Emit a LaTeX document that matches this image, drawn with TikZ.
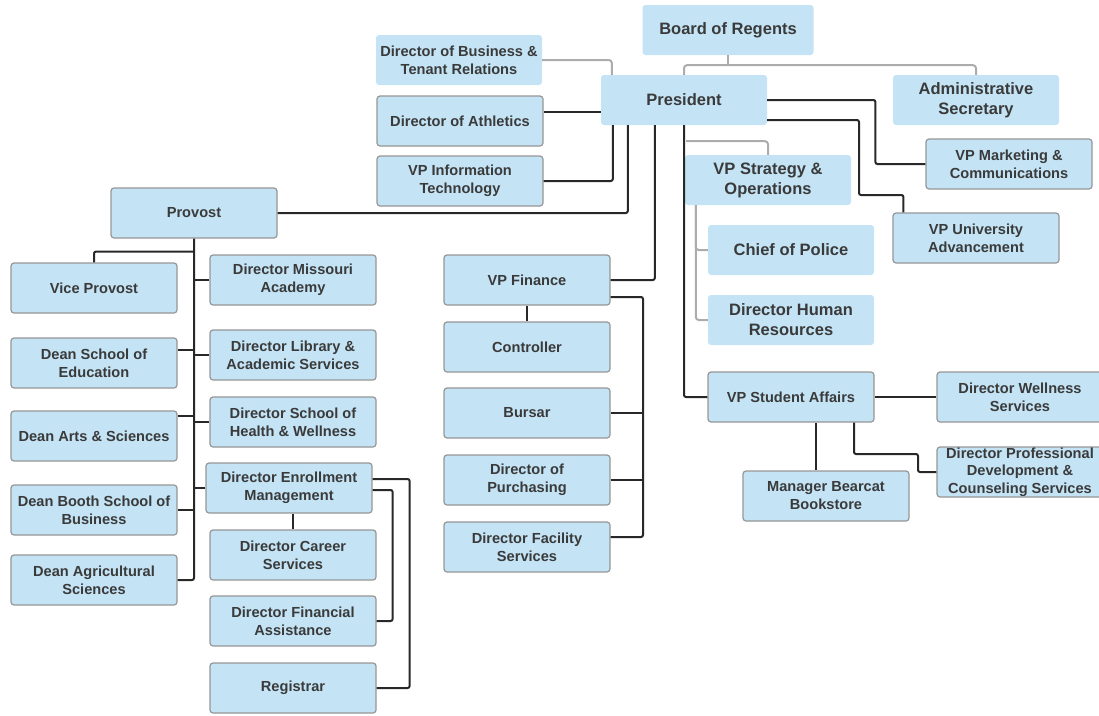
\documentclass[tikz,border=0pt]{standalone}
\usepackage{fontspec}
\setmainfont{Liberation Sans}
\usetikzlibrary{calc}
\definecolor{boxfill}{RGB}{196,228,246}
\definecolor{boxline}{RGB}{150,150,150}
\definecolor{txt}{RGB}{58,58,58}
\definecolor{dk}{RGB}{40,40,40}
\definecolor{lg}{RGB}{172,172,172}
\tikzset{
  box/.style={rectangle, rounded corners=3pt, fill=boxfill, minimum width=166pt, minimum height=50pt,
    inner sep=0pt, align=center, text=txt, font=\fontsize{14.6}{18}\selectfont\bfseries},
  bbox/.style={box, draw=boxline, line width=1.2pt},
  big/.style={font=\fontsize{16.5}{20}\selectfont\bfseries},
  dline/.style={draw=dk, line width=2pt, rounded corners=2pt},
  lline/.style={draw=lg, line width=2pt, rounded corners=3pt}
}
\begin{document}
\begin{tikzpicture}[x=1pt,y=-1pt]
\useasboundingbox (0,0) rectangle (1099,715);
% nodes
\node[box,big,minimum width=171pt] (bor) at (728,30) {Board of Regents};
\node[box] (dbus) at (459,60) {Director of Business \&\\Tenant Relations};
\node[box,big] (pres) at (684,100) {President};
\node[box,big] (adm) at (976,100) {Administrative\\Secretary};
\node[bbox] (ath) at (460,121) {Director of Athletics};
\node[bbox] (it) at (460,181) {VP Information\\Technology};
\node[bbox] (vpm) at (1009,164) {VP Marketing \&\\Communications};
\node[box,big] (vps) at (768,180) {VP Strategy \&\\Operations};
\node[bbox] (prov) at (194,213) {Provost};
\node[bbox] (vpu) at (976,238) {VP University\\Advancement};
\node[box,big] (cop) at (791,250) {Chief of Police};
\node[box,big] (hr) at (791,320) {Director Human\\Resources};
\node[bbox] (vpv) at (94,288) {Vice Provost};
\node[bbox] (dma) at (293,280) {Director Missouri\\Academy};
\node[bbox] (vpf) at (527,280) {VP Finance};
\node[bbox] (ded) at (94,363) {Dean School of\\Education};
\node[bbox] (dla) at (293,355) {Director Library \&\\Academic Services};
\node[bbox] (ctl) at (527,347) {Controller};
\node[bbox] (dsh) at (293,422) {Director School of\\Health \& Wellness};
\node[bbox] (das) at (94,436) {Dean Arts \& Sciences};
\node[bbox] (bur) at (527,413) {Bursar};
\node[bbox] (vpsa) at (791,397) {VP Student Affairs};
\node[bbox] (dws) at (1020,397) {Director Wellness\\Services};
\node[bbox,font=\fontsize{14.6}{17.5}\selectfont\bfseries] (dpd) at (1020,472) {Director Professional\\Development \&\\Counseling Services};
\node[bbox] (dem) at (289,488) {Director Enrollment\\Management};
\node[bbox] (dpu) at (527,480) {Director of\\Purchasing};
\node[bbox] (mbb) at (826,496) {Manager Bearcat\\Bookstore};
\node[bbox] (dbb) at (94,510) {Dean Booth School of\\Business};
\node[bbox] (dcs) at (293,555) {Director Career\\Services};
\node[bbox] (dfs) at (527,547) {Director Facility\\Services};
\node[bbox] (dag) at (94,580) {Dean Agricultural\\Sciences};
\node[bbox] (dfa) at (293,621) {Director Financial\\Assistance};
\node[bbox] (reg) at (293,688) {Registrar};
% helper coordinates
\coordinate (bj) at ($(bor.south)+(0,10)$);
\coordinate (sj) at ($(pres.south)+(2,16)$);
\coordinate (ua) at (859,195);
\coordinate (pa) at (918,454);
\coordinate (fx) at (643,297);
\coordinate (athp) at ($(ath.east)+(0,-9)$);
\coordinate (dedp) at ($(ded.east)+(0,-13)$);
\coordinate (dasp) at ($(das.east)+(0,-20)$);
\coordinate (mbbp) at ($(mbb.north)+(-10,0)$);
\coordinate (dfsp) at ($(dfs.east)+(0,-10)$);
% board connectors
\draw[lline] (pres.north) |- (bj) -| (adm.north);
\draw[lline] (bor.south) -- (bj);
\draw[lline] (dbus.east) -| ($(pres.north west)+(11,0)$);
% president connectors
\draw[dline] (athp) -- (athp -| pres.west);
\draw[dline] (it.east) -| ($(pres.south west)+(12,0)$);
\draw[dline] (prov.east) -| ($(pres.south west)+(27,0)$);
\draw[dline] ($(pres.south west)+(54,0)$) |- (vpf.east);
\draw[dline] (pres.south) |- (vpsa.west);
\draw[lline] (sj) -| (vps.north);
\draw[lline] ($(vps.south west)+(11,0)$) |- (hr.west);
\draw[lline] ($(vps.south west)+(11,0)$) |- (cop.west);
\draw[dline] (pres.east) -| ($(vpm.west)+(-50,0)$) -- (vpm.west);
\draw[dline] ($(pres.east)+(0,20)$) -| (ua) -| ($(vpu.north west)+(11,0)$);
% provost tree
\draw[dline] (prov.south) |- (dag.east);
\draw[dline] ($(prov.south)+(0,13)$) -| (vpv.north);
\draw[dline] (dma.west) -- (dma.west -| prov.south);
\draw[dline] (dedp) -- (dedp -| prov.south);
\draw[dline] (dla.west) -- (dla.west -| prov.south);
\draw[dline] (dasp) -- (dasp -| prov.south);
\draw[dline] (dsh.west) -- (dsh.west -| prov.south);
\draw[dline] (dem.west) -- (dem.west -| prov.south);
\draw[dline] (dbb.east) -- (dbb.east -| prov.south);
% enrollment
\draw[dline] (dcs.north) -- (dcs.north |- dem.south);
\draw[dline] ($(dem.east)+(0,-9)$) -| ($(reg.east)+(33,0)$) -- (reg.east);
\draw[dline] ($(dem.east)+(0,2)$) -| ($(dfa.east)+(16,0)$) -- (dfa.east);
% finance
\draw[dline] (ctl.north) -- (ctl.north |- vpf.south);
\draw[dline] ($(vpf.east)+(0,17)$) -| (dfsp -| fx) -- (dfsp);
\draw[dline] (bur.east) -- (bur.east -| fx);
\draw[dline] (dpu.east) -- (dpu.east -| fx);
% student affairs
\draw[dline] (vpsa.east) -- (dws.west);
\draw[dline] (mbbp) -- (mbbp |- vpsa.south);
\draw[dline] ($(vpsa.south)+(63,0)$) |- (pa) |- (dpd.west);
\end{tikzpicture}
\end{document}
